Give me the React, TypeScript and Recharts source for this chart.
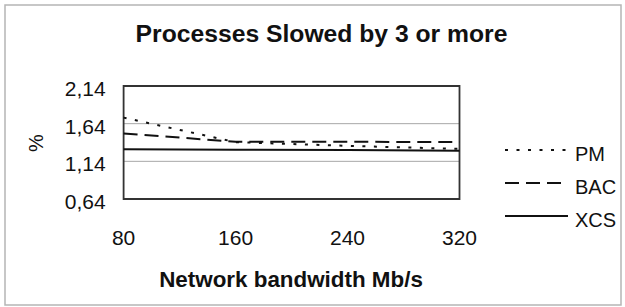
import React from 'react';
import { LineChart, Line, XAxis, YAxis, CartesianGrid, ReferenceArea } from 'recharts';

const bandwidths = [80, 160, 240, 320];
const pmValues = [1.72, 1.395, 1.345, 1.305];
const bacValues = [1.51, 1.4, 1.4, 1.395];
const xcsValues = [1.3, 1.295, 1.29, 1.282];
const yTicks = [0.64, 1.14, 1.64, 2.14];
const xTicks = [80, 160, 240, 320];

const seriesNames = ['PM', 'BAC', 'XCS'];
const seriesKeys = ['pm', 'bac', 'xcs'];
const seriesDash = ['3 8.5', '14 7', ''];

const data = bandwidths.map((b, i) => ({ bw: b, pm: pmValues[i], bac: bacValues[i], xcs: xcsValues[i] }));

const FONT = '"Liberation Sans", Arial, Helvetica, sans-serif';

const YTick = (props: any) => {
  const { x, y, payload } = props;
  return (
    <text x={x} y={y + 10} textAnchor="end" fontFamily={FONT} fontSize={21} fill="#111">
      {String(payload.value.toFixed(2)).replace('.', ',')}
    </text>
  );
};

const XTick = (props: any) => {
  const { x, y, payload } = props;
  return (
    <text x={x} y={y + 46} textAnchor="middle" fontFamily={FONT} fontSize={21} fill="#111">
      {payload.value}
    </text>
  );
};

export default function App() {
  return (
    <div style={{ position: 'absolute', left: 0, top: 0, width: 625, height: 307, background: '#fff' }}>
      <svg width={625} height={307} style={{ position: 'absolute', left: 0, top: 0 }}>
        <rect x={5} y={5} width={616} height={300} fill="#fff" stroke="#b5b5b5" strokeWidth={1.5} />
        <text x={321.5} y={41.5} textAnchor="middle" fontFamily={FONT} fontWeight="bold" fontSize={24.7} fill="#111">
          Processes Slowed by 3 or more
        </text>
        <text x={291} y={286.5} textAnchor="middle" fontFamily={FONT} fontWeight="bold" fontSize={22.4} fill="#111">
          Network bandwidth Mb/s
        </text>
        <text x={36} y={143} textAnchor="middle" dominantBaseline="central" fontFamily={FONT} fontSize={20} fill="#111" transform="rotate(-90 36 143)">
          %
        </text>
        {seriesNames.map((n, i) => {
          const ly = 150 + i * 33;
          return (
            <g key={n}>
              <line x1={505} x2={568} y1={ly} y2={ly} stroke="#111" strokeWidth={2} strokeDasharray={seriesDash[i] || undefined} />
              <text x={575} y={ly + 10.5} fontFamily={FONT} fontSize={20} fill="#111">{n}</text>
            </g>
          );
        })}
      </svg>
      <div style={{ position: 'absolute', left: 0, top: 0 }}>
        <LineChart width={625} height={307} data={data} margin={{ top: 86, right: 165.5, bottom: 78, left: 63.6 }}>
          <CartesianGrid horizontal={true} vertical={false} stroke="#a8a8a8" strokeWidth={1} />
          <XAxis dataKey="bw" type="number" domain={[80, 320]} ticks={xTicks} axisLine={false} tickLine={false} tickSize={0} tickMargin={0} height={30} tick={<XTick />} interval={0} />
          <YAxis type="number" domain={[0.64, 2.14]} ticks={yTicks} axisLine={false} tickLine={false} tickSize={0} tickMargin={18} width={60} tick={<YTick />} interval={0} />
          <ReferenceArea x1={80} x2={320} y1={0.64} y2={2.14} fill="none" stroke="#333" strokeWidth={1.8} ifOverflow="visible" />
          {seriesKeys.map((k, i) => (
            <Line key={k} type="linear" dataKey={k} name={seriesNames[i]} stroke="#111" strokeWidth={2} strokeDasharray={seriesDash[i] || undefined} dot={false} activeDot={false} isAnimationActive={false} />
          ))}
        </LineChart>
      </div>
    </div>
  );
}
